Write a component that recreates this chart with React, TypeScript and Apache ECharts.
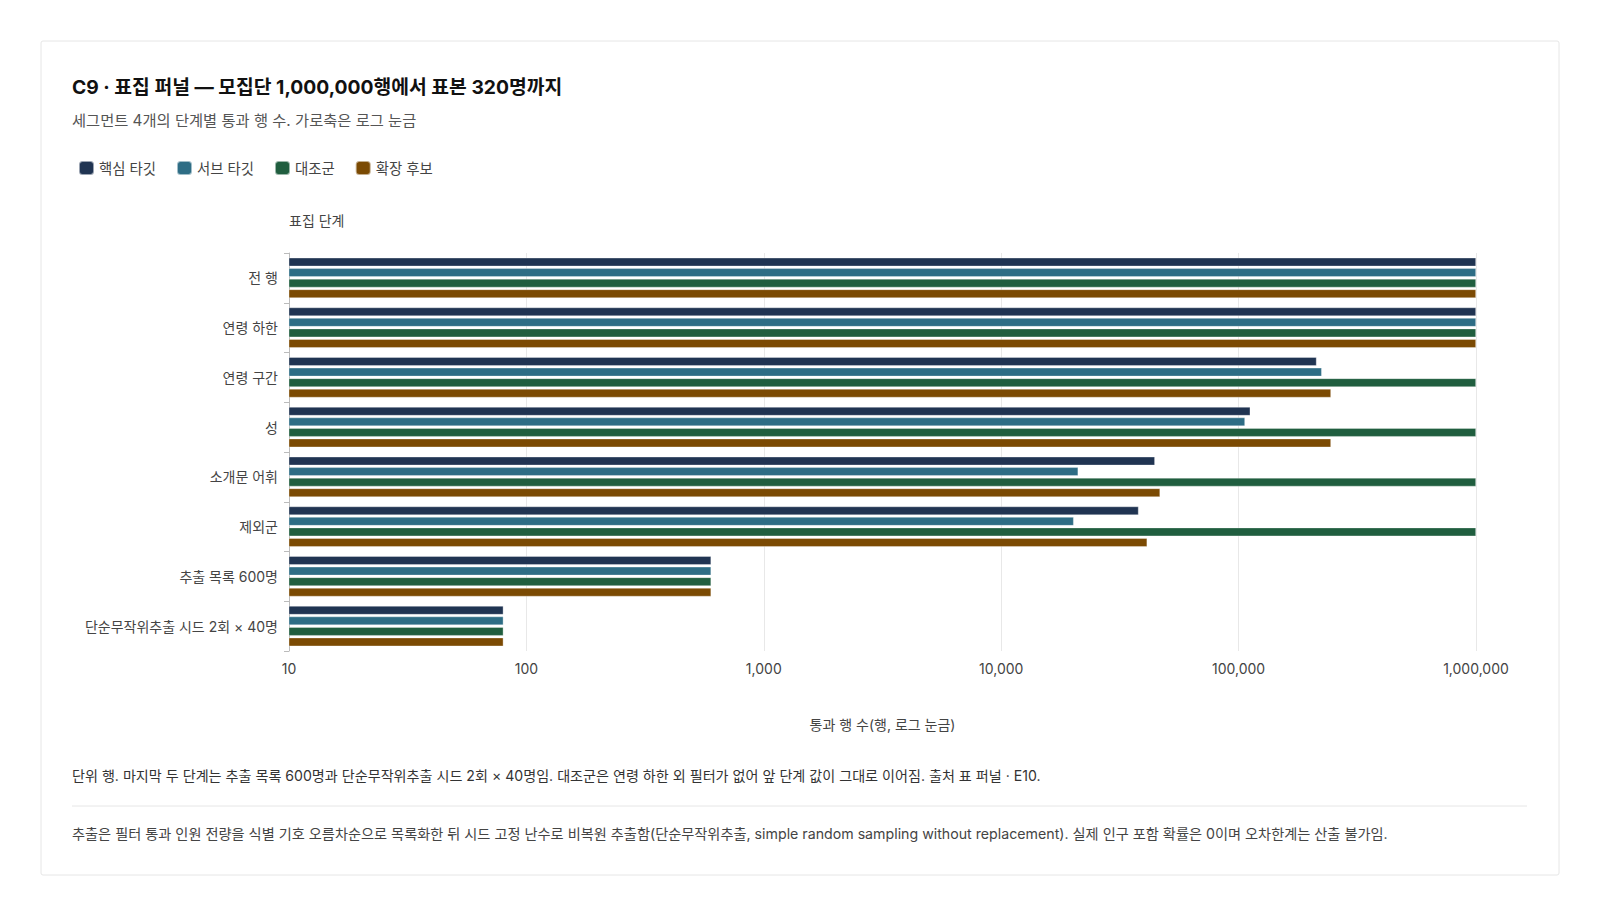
import React, { useEffect, useRef } from 'react';
import * as echarts from 'echarts';

const FONT = "Inter, 'Noto Sans CJK KR', 'Noto Sans', sans-serif";

// 표집 단계 (top to bottom)
const stages = [
  '전 행',
  '연령 하한',
  '연령 구간',
  '성',
  '소개문 어휘',
  '제외군',
  '추출 목록 600명',
  '단순무작위추출 시드 2회 × 40명',
];

const seriesNames = ['핵심 타깃', '서브 타깃', '대조군', '확장 후보'];
const seriesColors = ['#203452', '#2e6d85', '#205e3f', '#7b4a03'];

const coreTarget = [1000000, 1000000, 213000, 112000, 44400, 37900, 600, 80];
const subTarget = [1000000, 1000000, 224000, 106400, 21100, 20200, 600, 80];
const controlGroup = [1000000, 1000000, 1000000, 1000000, 1000000, 1000000, 600, 80];
const expansion = [1000000, 1000000, 245000, 245000, 46700, 41200, 600, 80];

const seriesValues = [coreTarget, subTarget, controlGroup, expansion];

const titleText = 'C9 · 표집 퍼널 — 모집단 1,000,000행에서 표본 320명까지';
const subtitleText = '세그먼트 4개의 단계별 통과 행 수. 가로축은 로그 눈금';
const noteText =
  '단위 행. 마지막 두 단계는 추출 목록 600명과 단순무작위추출 시드 2회 × 40명임. 대조군은 연령 하한 외 필터가 없어 앞 단계 값이 그대로 이어짐. 출처 표 퍼널 · E10.';
const methodText =
  '추출은 필터 통과 인원 전량을 식별 기호 오름차순으로 목록화한 뒤 시드 고정 난수로 비복원 추출함(단순무작위추출, simple random sampling without replacement). 실제 인구 포함 확률은 0이며 오차한계는 산출 불가임.';

const App: React.FC = () => {
  const chartRef = useRef<HTMLDivElement>(null);

  useEffect(() => {
    if (!chartRef.current) return;
    const chart = echarts.init(chartRef.current, undefined, { renderer: 'svg' });

    chart.setOption({
      animation: false,
      backgroundColor: '#ffffff',
      textStyle: { fontFamily: FONT },
      graphic: [
        {
          type: 'rect',
          z: -10,
          shape: { x: 41, y: 41, width: 1518, height: 834, r: 2 },
          style: { fill: '#ffffff', stroke: '#e6e6e6', lineWidth: 1 },
        },
        {
          type: 'text',
          x: 72,
          y: 87,
          style: {
            text: titleText,
            fontFamily: FONT,
            fontSize: 19.3,
            fontWeight: 'bold',
            fill: '#111111',
            verticalAlign: 'middle',
          },
        },
        {
          type: 'text',
          x: 72,
          y: 120,
          style: {
            text: subtitleText,
            fontFamily: FONT,
            fontSize: 15.3,
            fill: '#555555',
            verticalAlign: 'middle',
          },
        },
        {
          type: 'text',
          x: 72,
          y: 775,
          style: {
            text: noteText,
            fontFamily: FONT,
            fontSize: 14.1,
            fill: '#333333',
            verticalAlign: 'middle',
          },
        },
        {
          type: 'line',
          shape: { x1: 72, y1: 806, x2: 1527, y2: 806 },
          style: { stroke: '#e6e6e6', lineWidth: 1 },
        },
        {
          type: 'text',
          x: 72,
          y: 833,
          style: {
            text: methodText,
            fontFamily: FONT,
            fontSize: 14.2,
            fill: '#444444',
            verticalAlign: 'middle',
          },
        },
      ],
      legend: {
        left: 73,
        top: 155,
        icon: 'roundRect',
        itemWidth: 15,
        itemHeight: 14,
        itemGap: 20,
        textStyle: { fontFamily: FONT, fontSize: 14.4, color: '#444444' },
        data: seriesNames,
      },
      grid: {
        left: 289,
        right: 124,
        top: 253,
        bottom: 265,
      },
      xAxis: {
        type: 'log',
        logBase: 10,
        min: 10,
        max: 1000000,
        name: '통과 행 수(행, 로그 눈금)',
        nameLocation: 'middle',
        nameGap: 66,
        nameTextStyle: { fontFamily: FONT, fontSize: 14, color: '#444444' },
        axisLine: { show: false },
        axisTick: { show: false },
        axisLabel: {
          fontFamily: FONT,
          fontSize: 14,
          color: '#444444',
          margin: 10,
          formatter: (v: number) => Math.round(v).toLocaleString('en-US'),
        },
        splitLine: { show: true, lineStyle: { color: '#e8e8e8', width: 1 } },
      },
      yAxis: {
        type: 'category',
        data: stages,
        inverse: true,
        name: '표집 단계',
        nameLocation: 'start',
        nameGap: 26,
        nameTextStyle: {
          fontFamily: FONT,
          fontSize: 14,
          color: '#444444',
          align: 'left',
        },
        axisLine: { show: true, lineStyle: { color: '#bbbbbb' } },
        axisTick: { show: true, length: 5, lineStyle: { color: '#bbbbbb' } },
        axisLabel: { fontFamily: FONT, fontSize: 14, color: '#444444', margin: 11 },
        splitLine: { show: false },
      },
      series: seriesNames.map((name, i) => ({
        name,
        type: 'bar',
        data: seriesValues[i],
        barCategoryGap: '19%',
        barGap: '22%',
        itemStyle: {
          color: seriesColors[i],
          borderColor: 'rgba(255,255,255,0.55)',
          borderWidth: 0.6,
        },
      })),
    });

    return () => {
      chart.dispose();
    };
  }, []);

  return (
    <div
      ref={chartRef}
      style={{ position: 'fixed', left: 0, top: 0, width: '1600px', height: '916px' }}
    />
  );
};

export default App;
